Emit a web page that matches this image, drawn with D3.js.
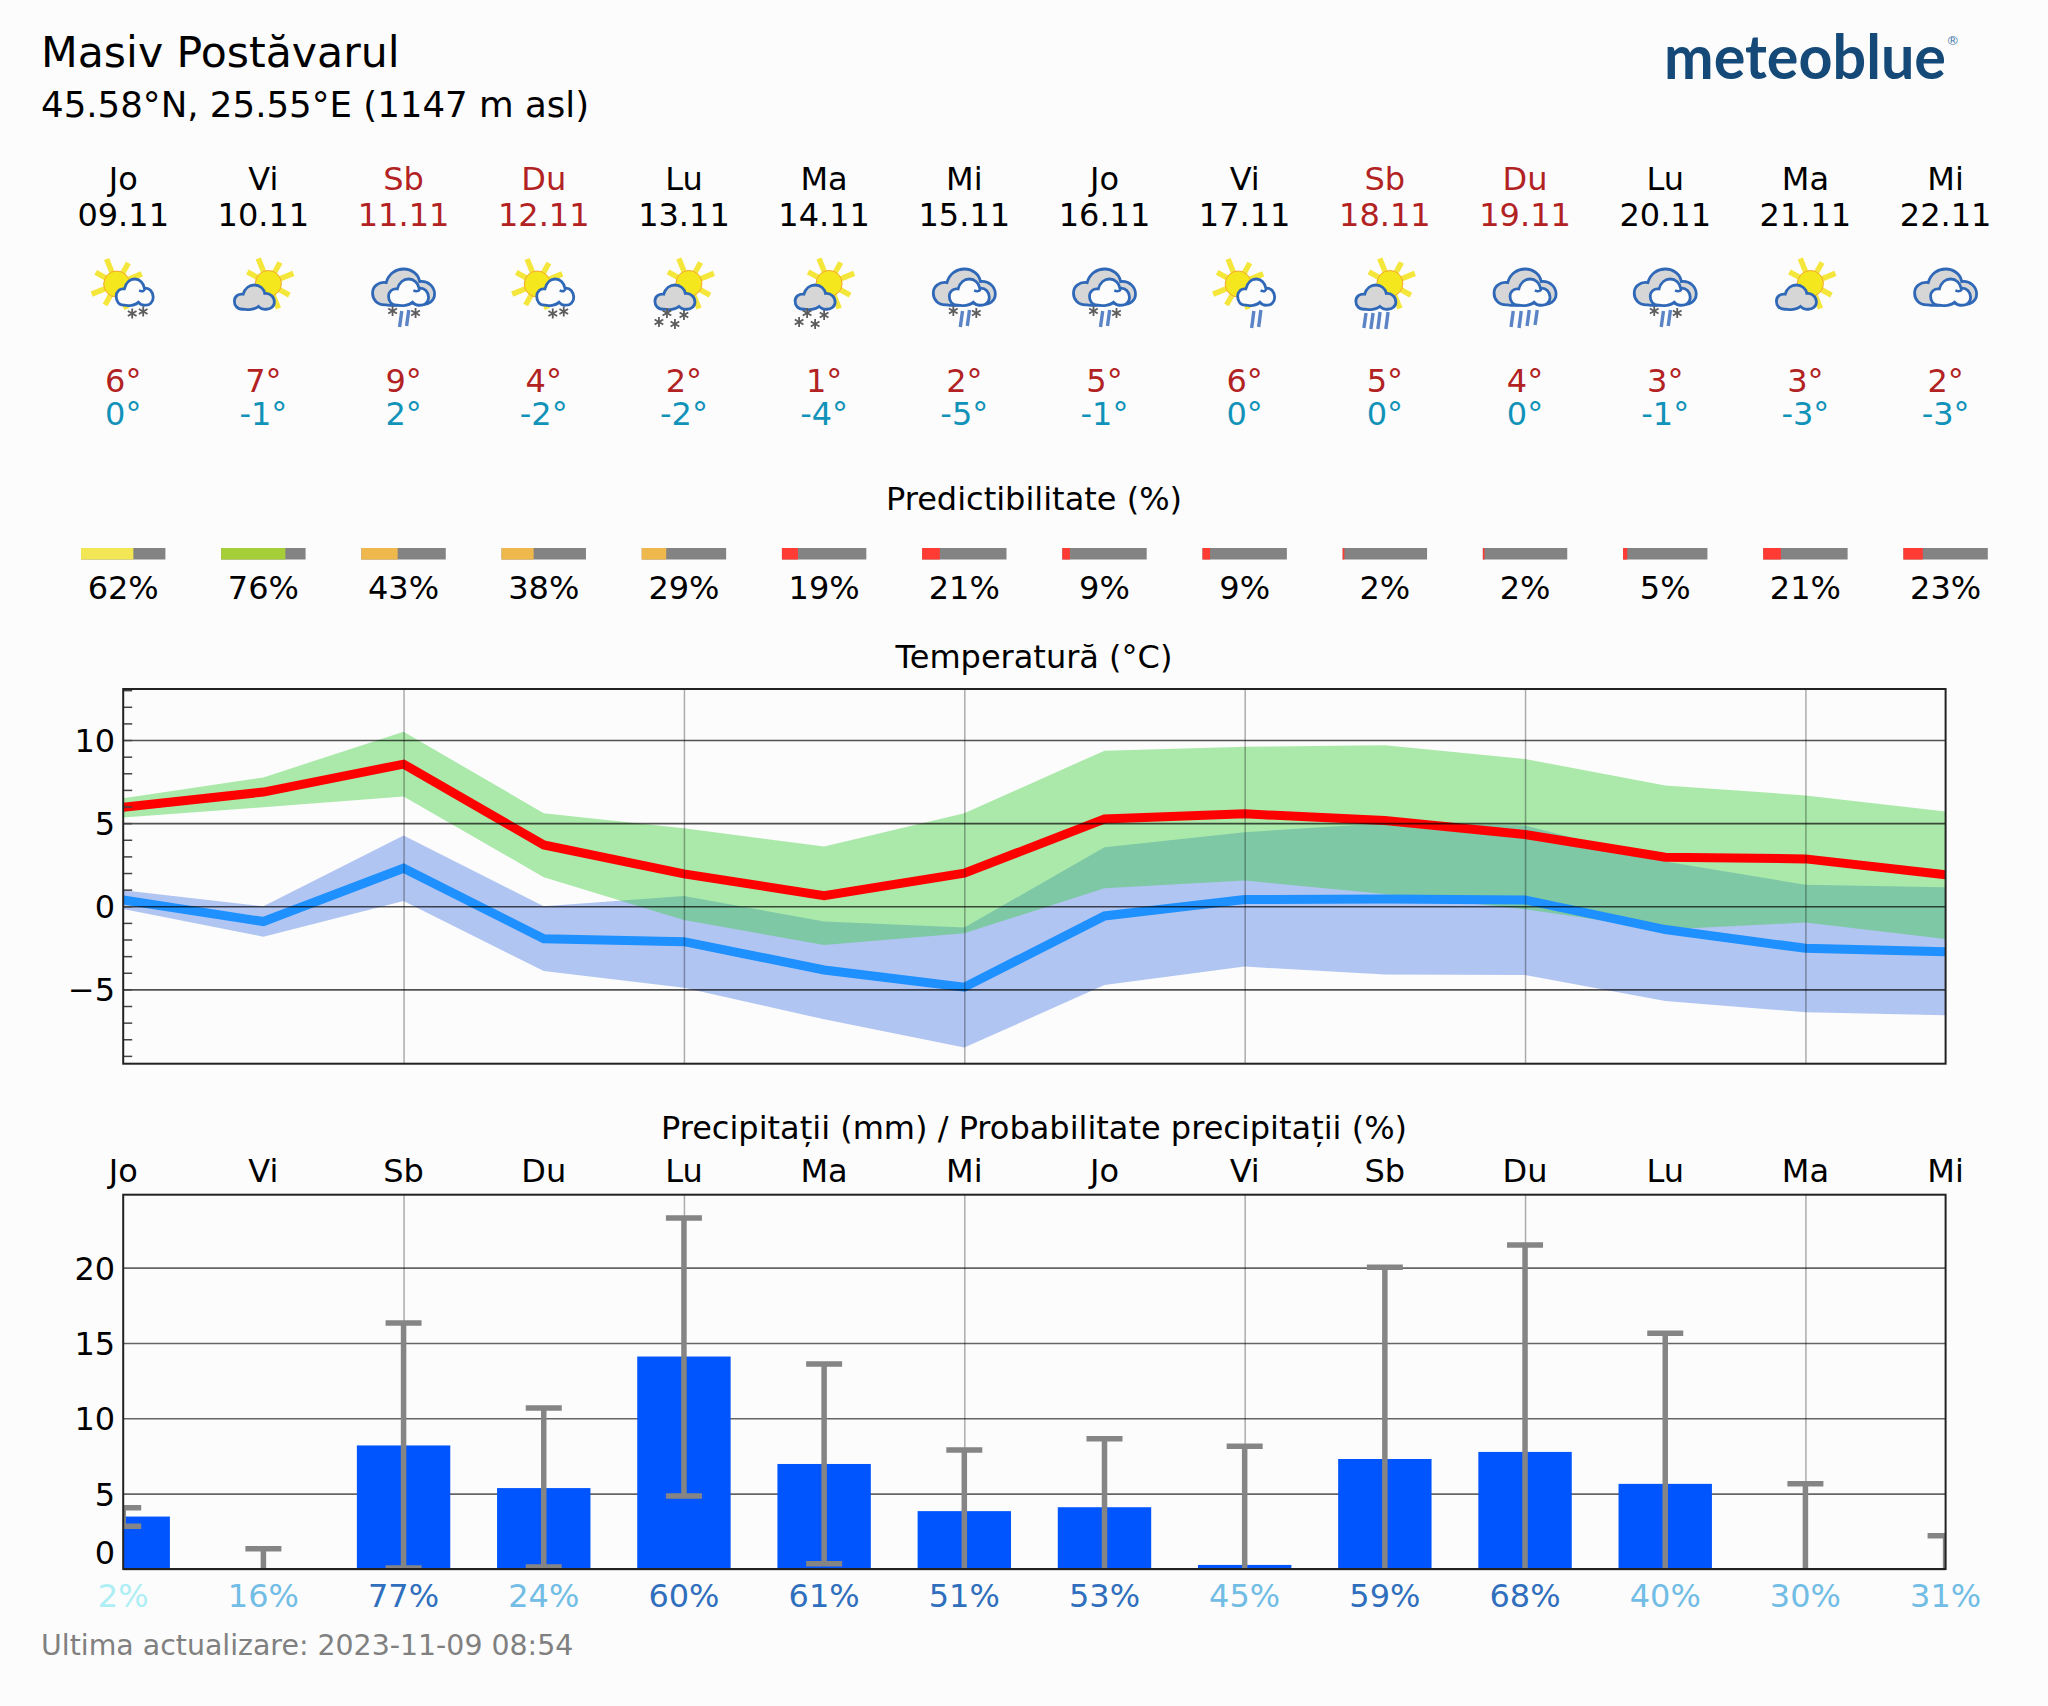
<!DOCTYPE html>
<html><head><meta charset="utf-8">
<script src="https://cdn.jsdelivr.net/npm/d3@7/dist/d3.min.js"></script>
<style>
html,body{margin:0;padding:0;background:#fcfcfc}
svg{display:block;font-family:"DejaVu Sans",sans-serif}
.axis .domain{display:none}
</style></head><body>
<script>
const dayNames=["Jo","Vi","Sb","Du","Lu","Ma","Mi","Jo","Vi","Sb","Du","Lu","Ma","Mi"];
const dates=["09.11","10.11","11.11","12.11","13.11","14.11","15.11","16.11","17.11","18.11","19.11","20.11","21.11","22.11"];
const weekend=[0,0,1,1,0,0,0,0,0,1,1,0,0,0];
const maxLabels=[6,7,9,4,2,1,2,5,6,5,4,3,3,2];
const minLabels=[0,-1,2,-2,-2,-4,-5,-1,0,0,0,-1,-3,-3];
const skyIcons=["sunWhite","sunGrey","clouds","sunWhite","sunGrey","sunGrey","clouds","clouds","sunWhite","sunGrey","clouds","clouds","sunGrey","clouds"];
const wetIcons=["snow2","","mix","snow2","snow4","snow4","mix","mix","rain2","rain4","rain3","mix","",""];
const predictability=[62,76,43,38,29,19,21,9,9,2,2,5,21,23];
const tempMax=[5.96,6.87,8.55,3.69,1.95,0.64,1.99,5.25,5.56,5.16,4.32,2.95,2.85,1.89];
const tempMin=[0.38,-0.92,2.29,-1.95,-2.13,-3.83,-4.87,-0.58,0.40,0.44,0.38,-1.4,-2.53,-2.73];
const maxBandHigh=[6.5,7.75,10.5,5.6,4.7,3.59,5.6,9.36,9.6,9.68,8.86,7.27,6.67,5.7];
const maxBandLow=[5.34,5.96,6.6,1.75,-0.82,-2.33,-1.62,1.08,1.55,0.74,-0.18,-1.39,-0.98,-1.97];
const minBandHigh=[0.96,0,4.26,0,0.62,-0.92,-1.28,3.55,4.46,5.0,4.86,2.7,1.29,1.14];
const minBandLow=[-0.16,-1.83,0.32,-3.9,-4.9,-6.8,-8.5,-4.74,-3.63,-4.1,-4.14,-5.7,-6.37,-6.55];
const tempTicks=[-5,0,5,10];
const precip=[3.48,0,8.2,5.37,14.1,6.97,3.84,4.1,0.27,7.3,7.77,5.65,0,0];
const precipLow=[2.84,0,0.06,0.13,4.84,0.35,0,0,0,0,0,0,0,0];
const precipHigh=[4.06,1.35,16.32,10.68,23.3,13.6,7.9,8.65,8.15,20.02,21.5,15.65,5.66,2.21];
const precipProb=[2,16,77,24,60,61,51,53,45,59,68,40,30,31];
const precipTicks=[0,5,10,15,20];

const W=2048,H=1706;
const svg=d3.select("body").append("svg").attr("width",W).attr("height",H);
svg.append("rect").attr("width",W).attr("height",H).attr("fill","#fcfcfc");
const defs=svg.append("defs");
const L=123.2,R=1945.6;
const idx=d3.range(14);
const x=d3.scaleLinear().domain([0,13]).range([L,R]);
const FS=32;

function txt(s,xp,yp,size,fill,anchor){
  return svg.append("text").attr("x",xp).attr("y",yp).attr("font-size",size).attr("fill",fill||"#000")
    .attr("text-anchor",anchor||"middle").text(s);
}
// header
txt("Masiv Postăvarul",41,67,42.6,"#000","start");
txt("45.58°N, 25.55°E (1147 m asl)",41,116.5,35.6,"#000","start");
svg.append("text").attr("x",1664).attr("y",79).attr("font-family","Lato").attr("font-weight",700).attr("font-size",62)
  .attr("fill","#154a78").attr("textLength",282).attr("lengthAdjust","spacingAndGlyphs").text("meteoblue");
txt("®",1946.2,45,13,"#3f78aa","start");

const RED="#b22222",CYAN="#1192b8";
idx.forEach(i=>{
  const c=weekend[i]?RED:"#000";
  txt(dayNames[i],x(i),189.5,FS,c);
  txt(dates[i],x(i),225.5,FS,c);
  txt(maxLabels[i]+"°",x(i),391.5,FS,RED);
  txt(minLabels[i]+"°",x(i),425,FS,CYAN);
});

// icons
const CLOUD="M22,63 C6,64 0,52 0,42 C0,30 10,22 22,24 C26,8 38,0 50,0 C64,0 74,10 76,22 C90,20 100,32 100,44 C100,56 90,64 78,63 C70,64 64,60 60,56 C52,64 32,65 22,63 Z";
const BLUE="#3068b8";
function cloud(g,x0,y0,w,h,fill){
  g.append("path").attr("d",CLOUD).attr("fill",fill).attr("stroke",BLUE).attr("stroke-width",2.8)
    .attr("vector-effect","non-scaling-stroke").attr("transform",`translate(${x0},${y0}) scale(${w/100},${h/65})`);
}
function curl(g,x0,y0,w,h){
  g.append("path").attr("fill","none").attr("stroke",BLUE).attr("stroke-width",2.4)
    .attr("d",`M${x0+w*.62},${y0+h*.42} C${x0+w*.72},${y0+h*.5} ${x0+w*.78},${y0+h*.42} ${x0+w*.78},${y0+h*.34}`);
}
function sun(g,cx,cy){
  d3.range(8).forEach(k=>{
    const a=(k*45-22+(k%2?6:0))*Math.PI/180;
    const r1=(k%2?24:27);
    g.append("line").attr("x1",cx+10*Math.cos(a)).attr("y1",cy+10*Math.sin(a)).attr("x2",cx+r1*Math.cos(a)).attr("y2",cy+r1*Math.sin(a))
      .attr("stroke","#f4e63a").attr("stroke-width",5.5);
  });
  g.append("circle").attr("cx",cx).attr("cy",cy).attr("r",13).attr("fill","#f5e71e").attr("stroke","#f3a72e").attr("stroke-width",1);
}
function flake(g,cx,cy){
  [0,60,120].forEach(a=>{
    const r=a*Math.PI/180;
    g.append("line").attr("x1",cx-5*Math.cos(r+Math.PI/2)).attr("y1",cy-5*Math.sin(r+Math.PI/2))
      .attr("x2",cx+5*Math.cos(r+Math.PI/2)).attr("y2",cy+5*Math.sin(r+Math.PI/2))
      .attr("stroke","#5c5c5c").attr("stroke-width",1.8);
  });
}
function rain(g,cx,y1,y2){
  g.append("line").attr("x1",cx+1.2).attr("y1",y1).attr("x2",cx-1).attr("y2",y2).attr("stroke","#5b84c6").attr("stroke-width",3.4);
}
const skyDraw={
  sunWhite:g=>{sun(g,-6.5,284);cloud(g,-7,279,37,27,"#fcfcfc");curl(g,-7,279,37,27);},
  sunGrey:g=>{sun(g,5,283.5);cloud(g,-29,285,40,25,"#d6d6d6");},
  clouds:g=>{
    cloud(g,-31,269,62,37,"#d6d6d6");
    cloud(g,-15,279,40,27,"#fcfcfc");curl(g,-15,279,40,27);
  }
};
const wetDraw={
  "":()=>{},
  snow2:g=>{flake(g,9,313.5);flake(g,20,311.5);},
  snow4:g=>{flake(g,-17,313);flake(g,0,315);flake(g,-25,322);flake(g,-9,324);},
  mix:g=>{flake(g,-11,311);flake(g,12,313);rain(g,-3,311,327);rain(g,4,310,326);},
  rain2:g=>{rain(g,8,311,328);rain(g,15,310,327);},
  rain3:g=>{rain(g,-13,311,327);rain(g,-5,311,328);rain(g,3,310,326);rain(g,11,310,325);},
  rain4:g=>{rain(g,-20,313,328);rain(g,-13,313,329);rain(g,-6,312,329);rain(g,2,312,329);}
};
idx.forEach(i=>{
  const g=svg.append("g").attr("transform",`translate(${x(i)},0)`);
  skyDraw[skyIcons[i]](g);
  wetDraw[wetIcons[i]](g);
});

// predictability
txt("Predictibilitate (%)",1034,510,FS);
const predScale=d3.scaleLinear().domain([0,100]).range([0,84.4]);
function predColor(p){return p>=70?"#a6ce39":p>=50?"#f2e654":p>=25?"#efb84c":"#ff3b34";}
svg.append("g").selectAll("rect.bg").data(predictability).join("rect")
  .attr("x",(d,i)=>x(i)-predScale(50)).attr("y",548).attr("width",predScale(100)).attr("height",11.5).attr("fill","#838383");
svg.append("g").selectAll("rect.fg").data(predictability).join("rect")
  .attr("x",(d,i)=>x(i)-predScale(50)).attr("y",548).attr("width",d=>predScale(d)).attr("height",11.5).attr("fill",d=>predColor(d));
idx.forEach(i=>txt(predictability[i]+"%",x(i),598.5,FS));

function clip(id,t,b){
  defs.append("clipPath").attr("id",id).append("rect").attr("x",L).attr("y",t).attr("width",R-L).attr("height",b-t);
}
function styleAxis(g,color,width){
  g.attr("class","axis");
  g.selectAll(".tick line").attr("stroke",color).attr("stroke-width",width);
}
function frame(t,b){
  svg.append("rect").attr("x",L).attr("y",t).attr("width",R-L).attr("height",b-t).attr("fill","none").attr("stroke","#222").attr("stroke-width",2);
}

// temperature
const TT=689,TB=1063.7;
const yT=d3.scaleLinear().domain([-9.47,13.07]).range([TB,TT]);
clip("ct",TT,TB);
txt("Temperatură (°C)",1034,668,FS);
const bandArea=(hi,lo)=>d3.area().x((d)=>x(d)).y0(d=>yT(lo[d])).y1(d=>yT(hi[d]))(idx);
const tp=svg.append("g").attr("clip-path","url(#ct)");
tp.append("path").attr("d",bandArea(minBandHigh,minBandLow)).attr("fill","rgb(65,115,228)").attr("fill-opacity",.4);
tp.append("path").attr("d",bandArea(maxBandHigh,maxBandLow)).attr("fill","rgb(50,205,50)").attr("fill-opacity",.4);
const gridX=[2,4,6,8,10,12];
const tgx=svg.append("g").attr("transform",`translate(0,${TB})`).call(d3.axisBottom(x).tickValues(gridX).tickFormat("").tickSize(-(TB-TT)));
styleAxis(tgx,"#000",1.5);tgx.selectAll(".tick line").attr("stroke-opacity",.32);
const tgy=svg.append("g").attr("transform",`translate(${L},0)`).call(d3.axisRight(yT).tickValues(tempTicks).tickFormat("").tickSize(R-L));
styleAxis(tgy,"#000",1.6);tgy.selectAll(".tick line").attr("stroke-opacity",.68);
const line=(arr)=>d3.line().x(d=>x(d)).y(d=>yT(arr[d]))(idx);
tp.append("path").attr("d",line(tempMax)).attr("fill","none").attr("stroke","#ff0000").attr("stroke-width",9);
tp.append("path").attr("d",line(tempMin)).attr("fill","none").attr("stroke","#1e90ff").attr("stroke-width",9);
const minor=d3.range(-9,14);
const tm=svg.append("g").attr("transform",`translate(${L},0)`).call(d3.axisRight(yT).tickValues(minor).tickFormat("").tickSize(9));
styleAxis(tm,"#444",1.5);
const tl=svg.append("g").attr("transform",`translate(${L},0)`).call(d3.axisLeft(yT).tickValues(tempTicks).tickSize(0).tickPadding(8).tickFormat(d3.format("d")));
tl.attr("class","axis").selectAll("text").attr("font-size",FS).attr("font-family","DejaVu Sans").attr("fill","#000").attr("dy","0.36em");
frame(TT,TB);

// precipitation
const PT=1194.7,PB=1569;
const yP=d3.scaleLinear().domain([0,24.84]).range([PB,PT]);
clip("cp",PT,PB);
txt("Precipitații (mm) / Probabilitate precipitații (%)",1034,1139,FS);
idx.forEach(i=>txt(dayNames[i],x(i),1181.5,FS));
const pgx=svg.append("g").attr("transform",`translate(0,${PB})`).call(d3.axisBottom(x).tickValues(gridX).tickFormat("").tickSize(-(PB-PT)));
styleAxis(pgx,"#000",1.5);pgx.selectAll(".tick line").attr("stroke-opacity",.32);
const pgy=svg.append("g").attr("transform",`translate(${L},0)`).call(d3.axisRight(yP).tickValues(precipTicks).tickFormat("").tickSize(R-L));
styleAxis(pgy,"#000",1.6);pgy.selectAll(".tick line").attr("stroke-opacity",.6);
const pp=svg.append("g").attr("clip-path","url(#cp)");
const barW=93.4;
pp.selectAll("rect.bar").data(precip).join("rect").attr("x",(d,i)=>x(i)-barW/2).attr("y",d=>yP(d)).attr("width",barW).attr("height",d=>yP(0)-yP(d)).attr("fill","#0055ff");
const ERR="#858585";
idx.forEach(i=>{
  pp.append("line").attr("x1",x(i)).attr("x2",x(i)).attr("y1",yP(precipLow[i])).attr("y2",yP(precipHigh[i])).attr("stroke",ERR).attr("stroke-width",5.5);
  [precipLow[i],precipHigh[i]].forEach(v=>{
    if(v>0) pp.append("line").attr("x1",x(i)-18).attr("x2",x(i)+18).attr("y1",yP(v)).attr("y2",yP(v)).attr("stroke",ERR).attr("stroke-width",5.5);
  });
});
const pl=svg.append("g").attr("transform",`translate(${L},0)`).call(d3.axisLeft(yP).tickValues(precipTicks).tickSize(0).tickPadding(8).tickFormat(d3.format("d")));
pl.attr("class","axis").selectAll("text").attr("font-size",FS).attr("font-family","DejaVu Sans").attr("fill","#000").attr("dy","0.36em");
pl.selectAll(".tick").filter(d=>d===0).select("text").attr("dy","-0.17em");
frame(PT,PB);
function probColor(p){return p>=50?"#2f6fbd":p>=10?"#72bde5":"#aeeef5";}
idx.forEach(i=>txt(precipProb[i]+"%",x(i),1606.5,FS,probColor(precipProb[i])));
txt("Ultima actualizare: 2023-11-09 08:54",41,1655,28.4,"#808080","start");
</script>
</body></html>
